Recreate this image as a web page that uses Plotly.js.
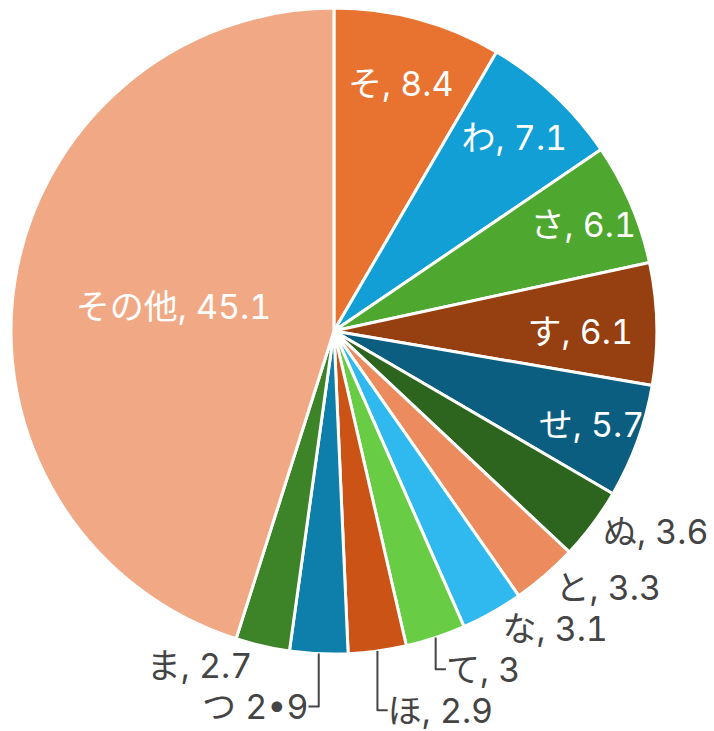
<!DOCTYPE html>
<html><head><meta charset="utf-8">
<script src="https://cdn.plot.ly/plotly-3.0.1.min.js"></script>
<style>
html,body{margin:0;padding:0;background:#fff;}
svg text{font-feature-settings:"tnum" 1;}
</style>
</head><body>
<div id="chart" style="width:714px;height:731px;"></div>
<script>
const labels = ["そ","わ","さ","す","せ","ぬ","と","な","て","ほ","つ","ま","その他"];
const values = [8.4,7.1,6.1,6.1,5.7,3.6,3.3,3.1,3,2.9,2.9,2.7,45.1];
const colors = ["#E8722F","#129FD6","#4EA72E","#964011","#0B5E7F","#2E651E","#EC8B5D","#30B9EF","#68CC45","#CC5316","#0E7EAA","#3C8427","#F1A985"];
const texts = labels.map((l,i)=> l==="つ" ? "つ 2•9" : l+", "+values[i]);
const positions = values.map(v => v >= 5 ? "inside" : "outside");
const fam = "Inter, Noto Sans CJK JP";
Plotly.newPlot("chart",[{
  type:"pie", labels:labels, values:values, text:texts,
  textinfo:"text", sort:false, direction:"clockwise", rotation:0,
  marker:{colors:colors, line:{color:"#fff", width:3}},
  textposition:positions, insidetextorientation:"horizontal",
  insidetextfont:{color:"#fff", size:34, family:fam},
  outsidetextfont:{color:"#444", size:34, family:fam},
  automargin:false,
  domain:{x:[0.0154,0.920], y:[0.1053,0.989]},
  hoverinfo:"none"
}],{
  width:714, height:731, margin:{l:0,r:0,t:0,b:0}, showlegend:false,
  uniformtext:{mode:"show", minsize:34},
  paper_bgcolor:"#fff", font:{family:fam}
},{displayModeBar:false});
</script>
</body></html>
